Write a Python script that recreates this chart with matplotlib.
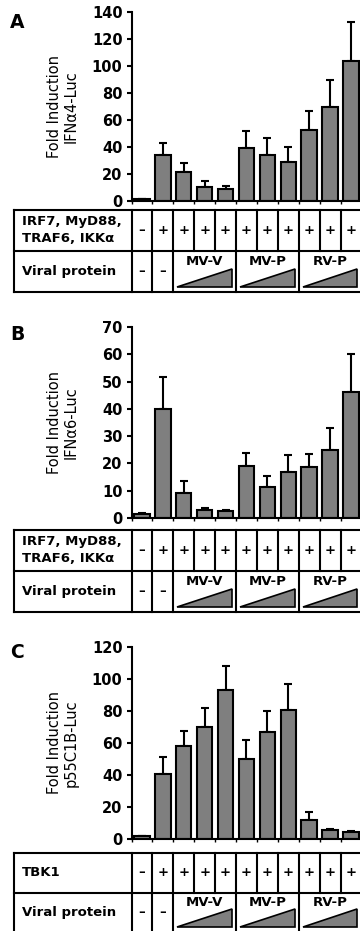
"""Luciferase reporter fold induction, three panels with a condition table under each."""

import matplotlib

matplotlib.use("Agg")
import matplotlib.pyplot as plt
from matplotlib.patches import Polygon

plt.rcParams["font.family"] = ["DejaVu Sans"]

FIG_W, FIG_H = 360, 931  # pixels at dpi 100

# ---- data ----
N_BARS = 11

A_VALUES = [1.2, 33.9, 21.3, 10.6, 8.9, 38.9, 33.9, 28.7, 52.7, 70.0, 103.7]
A_ERRORS = [0.4, 8.9, 6.7, 4.3, 2.5, 13.1, 12.9, 11.3, 13.9, 19.6, 29.0]
A_YTICKS = [0, 20, 40, 60, 80, 100, 120, 140]

B_VALUES = [1.3, 39.8, 9.1, 2.8, 2.7, 18.9, 11.5, 17.0, 18.7, 25.1, 46.0]
B_ERRORS = [0.4, 11.7, 4.3, 0.7, 0.3, 5.1, 3.9, 6.2, 4.8, 7.8, 14.0]
B_YTICKS = [0, 10, 20, 30, 40, 50, 60, 70]

C_VALUES = [1.7, 40.8, 58.3, 69.8, 93.3, 50.0, 66.9, 80.6, 11.7, 5.6, 4.2]
C_ERRORS = [0.4, 10.5, 9.2, 11.9, 15.0, 11.7, 13.1, 16.4, 5.2, 0.7, 0.8]
C_YTICKS = [0, 20, 40, 60, 80, 100, 120]

ROW1_SIGNS = ["–", "+", "+", "+", "+", "+", "+", "+", "+", "+", "+"]
ROW2_SIGNS = ["–", "–"]
GROUPS = ["MV-V", "MV-P", "RV-P"]
GROUP_SIZE = 3

# panel layout in pixels: (letter, letter_y, ylabel, row1 label, values, errors, yticks,
#                          axis_top, axis_zero, table_top, table_bottom)
PANELS = [
    ("A", 22, "Fold Induction\nIFNα4-Luc", "IRF7, MyD88,\nTRAF6, IKKα",
     A_VALUES, A_ERRORS, A_YTICKS, 12, 201, 210, 292),
    ("B", 335, "Fold Induction\nIFNα6-Luc", "IRF7, MyD88,\nTRAF6, IKKα",
     B_VALUES, B_ERRORS, B_YTICKS, 327, 518, 530, 612),
    ("C", 653, "Fold Induction\np55C1B-Luc", "TBK1",
     C_VALUES, C_ERRORS, C_YTICKS, 647, 839, 853, 932),
]

BAR_COLOR = "#7f7f7f"
AX_LEFT = 131.5   # px, left edge of first category
AX_RIGHT = 361.4  # px, right edge of last category (just past the crop)
TABLE_LEFT = 14.0
UNIT = (AX_RIGHT - AX_LEFT) / N_BARS
LW = 1.5
TABLE_FS = 9.5


def fx(px):
    return px / FIG_W


def fy(px):
    return 1 - px / FIG_H


def draw_bars(fig, values, errors, yticks, top, zero, ylabel):
    ax = fig.add_axes([fx(AX_LEFT), fy(zero), fx(AX_RIGHT - AX_LEFT), (zero - top) / FIG_H])
    x = list(range(N_BARS))
    ax.bar(x, values, width=0.74, color=BAR_COLOR, edgecolor="black", linewidth=LW, zorder=2)
    ax.errorbar(x, values, yerr=[[0] * N_BARS, errors], fmt="none", ecolor="black",
                elinewidth=LW, capsize=3, capthick=LW, zorder=1)
    ax.set_xlim(-0.5, N_BARS - 0.5)
    ax.set_ylim(yticks[0], yticks[-1])
    ax.set_yticks(yticks)
    ax.set_yticklabels([str(t) for t in yticks], fontsize=10.5, fontweight="bold")
    ax.set_xticks([i - 0.5 for i in range(N_BARS + 1)])
    ax.set_xticklabels([])
    ax.tick_params(axis="y", direction="out", length=3.5, width=LW, pad=3)
    ax.tick_params(axis="x", direction="out", length=2.5, width=1.0)
    for side in ("top", "right"):
        ax.spines[side].set_visible(False)
    for side in ("left", "bottom"):
        ax.spines[side].set_linewidth(LW)
    ax.patch.set_alpha(0)
    fig.text(fx(63), fy((top + zero) / 2), ylabel, rotation=90, ha="center", va="center",
             fontsize=10.5, linespacing=1.15)
    return ax


def draw_table(fig, row1_label, top, bottom):
    x0 = -0.5 - (AX_LEFT - TABLE_LEFT) / UNIT
    x1 = N_BARS - 0.5
    ax = fig.add_axes([fx(TABLE_LEFT), fy(bottom), fx(AX_RIGHT - TABLE_LEFT), (bottom - top) / FIG_H])
    ax.set_xlim(x0, x1)
    ax.set_ylim(0, 2)
    ax.axis("off")

    line = dict(color="black", linewidth=LW, clip_on=False, solid_capstyle="projecting")
    for y in (0, 1, 2):
        ax.plot([x0, x1], [y, y], **line)
    ax.plot([x0, x0], [0, 2], **line)
    ax.plot([-0.5, -0.5], [0, 2], **line)
    for i in range(N_BARS):
        ax.plot([i + 0.5, i + 0.5], [1, 2], **line)
    row2_edges = [0.5, 1.5] + [1.5 + GROUP_SIZE * (g + 1) for g in range(len(GROUPS))]
    for xe in row2_edges:
        ax.plot([xe, xe], [0, 1], **line)

    label_x = x0 + (22 - TABLE_LEFT) / UNIT
    ax.text(label_x, 1.5, row1_label, ha="left", va="center", fontsize=TABLE_FS,
            fontweight="bold", linespacing=1.4)
    ax.text(label_x, 0.5, "Viral protein", ha="left", va="center", fontsize=TABLE_FS,
            fontweight="bold")

    for i, s in enumerate(ROW1_SIGNS):
        ax.text(i, 1.5, s, ha="center", va="center", fontsize=TABLE_FS, fontweight="bold")
    for i, s in enumerate(ROW2_SIGNS):
        ax.text(i, 0.5, s, ha="center", va="center", fontsize=TABLE_FS, fontweight="bold")

    inset = 4 / UNIT
    for g, name in enumerate(GROUPS):
        left = 1.5 + GROUP_SIZE * g
        right = left + GROUP_SIZE
        ax.text((left + right) / 2, 0.75, name, ha="center", va="center", fontsize=TABLE_FS,
                fontweight="bold")
        tri = Polygon([(left + inset, 0.13), (right - inset, 0.13), (right - inset, 0.57)],
                      closed=True, facecolor=BAR_COLOR, edgecolor="black", linewidth=1.2)
        ax.add_patch(tri)


def main():
    fig = plt.figure(figsize=(FIG_W / 100, FIG_H / 100), dpi=100)
    for (letter, letter_y, ylabel, row1_label, values, errors, yticks,
         top, zero, t_top, t_bottom) in PANELS:
        draw_bars(fig, values, errors, yticks, top, zero, ylabel)
        draw_table(fig, row1_label, t_top, t_bottom)
        fig.text(fx(17), fy(letter_y), letter, ha="center", va="center", fontsize=13.5,
                 fontweight="bold")
    fig.savefig("out.png", dpi=100)


if __name__ == "__main__":
    main()
